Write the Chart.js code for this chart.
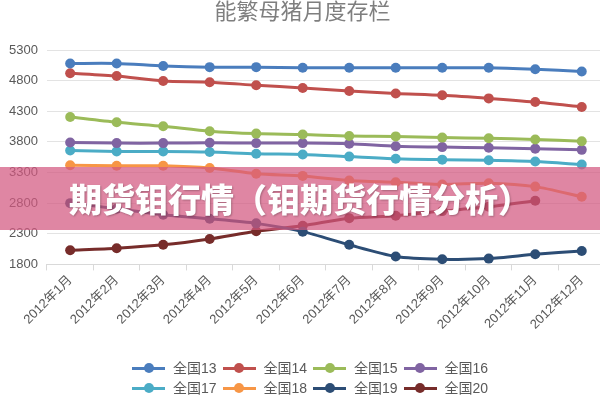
<!DOCTYPE html>
<html>
<head>
<meta charset="utf-8">
<script src="https://cdn.jsdelivr.net/npm/chart.js@4.4.1/dist/chart.umd.min.js"></script>
<style>
	html, body { margin: 0; padding: 0; background: #fff; width: 600px; height: 400px; overflow: hidden; }
	#wrap { position: relative; width: 612px; height: 400px; }
	#banner { position: absolute; left: 0; top: 167px; width: 600px; height: 63px;
		background: rgba(210, 88, 128, 0.72); color: #fff; text-align: center;
		font: 900 33px "Noto Sans CJK SC", sans-serif; line-height: 63px;
		text-shadow: 1px 1px 2px rgba(0,0,0,0.25); }
	#legend { position: absolute; left: 132px; top: 358px; width: 370px;
		font: 14px "Liberation Sans", "Noto Sans CJK SC", sans-serif; color: #595959; }
	.item { display: inline-block; width: 90.5px; height: 20px; line-height: 20px; white-space: nowrap; }
	.mark { display: inline-block; position: relative; width: 33px; height: 20px; vertical-align: top; margin-right: 8px; }
	.mark i { position: absolute; left: 0; top: 8.5px; width: 33px; height: 3px; }
	.mark b { position: absolute; left: 11.5px; top: 5px; width: 10px; height: 10px; border-radius: 50%; }
</style>
</head>
<body>
<div id="wrap">
	<canvas id="myChart" width="612" height="400"></canvas>
	<div id="banner">期货钼行情（钼期货行情分析）</div>
	<div id="legend"></div>
</div>
<script>
var months = ["2012年1月", "2012年2月", "2012年3月", "2012年4月", "2012年5月", "2012年6月",
	"2012年7月", "2012年8月", "2012年9月", "2012年10月", "2012年11月", "2012年12月"];

var names = ["全国13", "全国14", "全国15", "全国16", "全国17", "全国18", "全国19", "全国20"];
var colors = ["#4a7dbd", "#c0504d", "#9bbb59", "#8064a2", "#4bacc6", "#f79646", "#2c4d75", "#772c2a"];

var s13 = [5080, 5080, 5040, 5020, 5020, 5010, 5010, 5010, 5010, 5010, 4985, 4950];
var s14 = [4920, 4875, 4795, 4775, 4725, 4680, 4630, 4590, 4560, 4510, 4450, 4370];
var s15 = [4205, 4120, 4055, 3975, 3935, 3920, 3895, 3890, 3870, 3860, 3840, 3810];
var s16 = [3790, 3780, 3780, 3785, 3780, 3780, 3770, 3730, 3715, 3705, 3690, 3670];
var s17 = [3660, 3645, 3645, 3635, 3605, 3595, 3560, 3525, 3510, 3500, 3480, 3430];
var s18 = [3420, 3410, 3410, 3375, 3280, 3245, 3170, 3140, 3105, 3125, 3070, 2905];
var s19 = [2800, 2710, 2610, 2545, 2470, 2335, 2120, 1930, 1885, 1895, 1965, 2020];
var s20 = [2030, 2065, 2120, 2215, 2340, 2430, 2555, 2595, 2670, 2740, 2840, null];

var yTicks = [1800, 2300, 2800, 3300, 3800, 4300, 4800, 5300];

var series = [s13, s14, s15, s16, s17, s18, s19, s20];
var fontFamily = '"Liberation Sans", "Noto Sans CJK SC", sans-serif';

var datasets = [];
for (var i = 0; i < series.length; i++) {
	datasets.push({
		label: names[i],
		data: series[i],
		borderColor: colors[i],
		backgroundColor: colors[i],
		borderWidth: 3,
		pointRadius: 5,
		pointBorderWidth: 0,
		pointBackgroundColor: colors[i],
		tension: 0.25,
		spanGaps: false
	});
}

// legend as html, 4 items per row like the picture
var legendHtml = "";
for (var i = 0; i < names.length; i++) {
	legendHtml += '<span class="item"><span class="mark"><i style="background:' + colors[i] +
		'"></i><b style="background:' + colors[i] + '"></b></span>' + names[i] + '</span>';
}
document.getElementById("legend").innerHTML = legendHtml;

var ctx = document.getElementById("myChart").getContext("2d");
new Chart(ctx, {
	type: "line",
	data: { labels: months, datasets: datasets },
	options: {
		responsive: false,
		animation: false,
		layout: { padding: { left: 0, right: 7, top: 0, bottom: 65.5 } },
		plugins: {
			legend: { display: false },
			tooltip: { enabled: false },
			title: {
				display: true,
				text: "能繁母猪月度存栏",
				color: "#7f7f7f",
				font: { family: '"Noto Sans CJK SC", sans-serif', size: 22, weight: "normal", lineHeight: 1 },
				padding: { top: 0, bottom: 28 }
			}
		},
		scales: {
			x: {
				offset: true,
				grid: { offset: true, drawOnChartArea: false, drawTicks: true, tickLength: 6, color: "#d9d9d9" },
				border: { color: "#d9d9d9" },
				ticks: { color: "#595959", minRotation: 45, maxRotation: 45, padding: 2,
					font: { family: fontFamily, size: 13 } }
			},
			y: {
				min: yTicks[0],
				max: yTicks[yTicks.length - 1],
				afterBuildTicks: function (axis) {
					axis.ticks = yTicks.map(function (v) { return { value: v }; });
				},
				grid: { color: "#e3e3e3", drawTicks: false },
				border: { display: false },
				ticks: { color: "#595959", padding: 9, font: { family: fontFamily, size: 13 },
					callback: function (v) { return String(v); } }
			}
		}
	}
});
</script>
</body>
</html>
